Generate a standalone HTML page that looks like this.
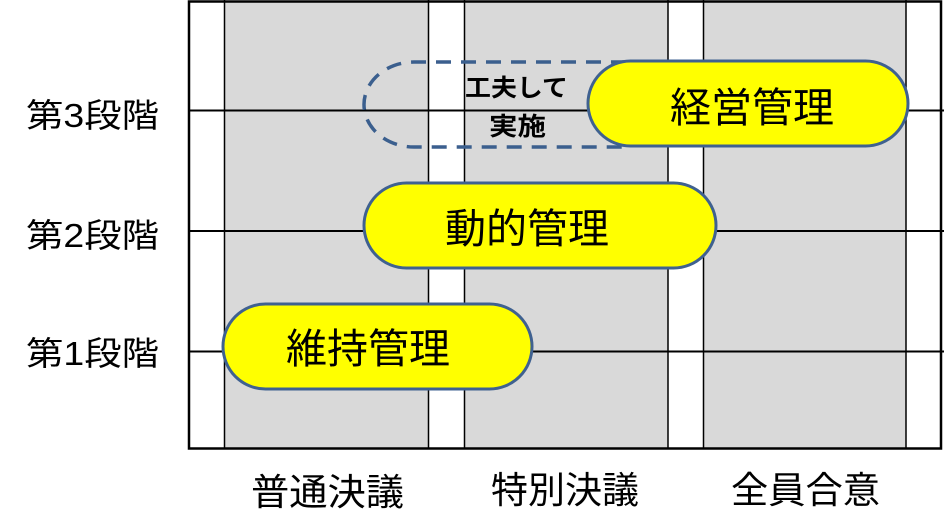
<!DOCTYPE html>
<html><head><meta charset="utf-8"><style>
html,body{margin:0;padding:0;background:#fff;}
svg{display:block;}
text{font-family:"Liberation Sans","Noto Sans CJK JP",sans-serif;fill:#000;}
</style></head><body>
<svg width="944" height="524" viewBox="0 0 944 524" xmlns="http://www.w3.org/2000/svg">
<rect x="0" y="0" width="944" height="524" fill="#fff"/>
<!-- gray columns -->
<rect x="224" y="1" width="204" height="447" fill="#d9d9d9"/>
<rect x="464" y="1" width="204" height="447" fill="#d9d9d9"/>
<rect x="703" y="1" width="203" height="447" fill="#d9d9d9"/>
<!-- inner vertical lines -->
<g stroke="#000" stroke-width="1.5">
<line x1="224.5" y1="0" x2="224.5" y2="449"/>
<line x1="428.5" y1="0" x2="428.5" y2="449"/>
<line x1="464.5" y1="0" x2="464.5" y2="449"/>
<line x1="668" y1="0" x2="668" y2="449"/>
<line x1="703.5" y1="0" x2="703.5" y2="449"/>
<line x1="906" y1="0" x2="906" y2="449"/>
</g>
<!-- horizontal row lines -->
<g stroke="#000" stroke-width="2">
<line x1="188" y1="110.5" x2="944" y2="110.5"/>
<line x1="188" y1="231" x2="944" y2="231"/>
<line x1="188" y1="351.5" x2="944" y2="351.5"/>
</g>
<!-- frame -->
<rect x="189" y="1.5" width="752" height="447" fill="none" stroke="#000" stroke-width="2.5"/>
<!-- dashed pill (left part; right part hidden under yellow pill) -->
<path d="M 626 62 H 414 A 50 42.5 0 0 0 414 147 H 626" fill="none" stroke="#3b5f8e" stroke-width="3.5" stroke-dasharray="15 10"/>
<text x="465" y="96" font-size="24" font-weight="bold" textLength="103" lengthAdjust="spacingAndGlyphs">工夫して</text>
<text x="489" y="135" font-size="25" font-weight="bold" textLength="57" lengthAdjust="spacingAndGlyphs">実施</text>
<!-- yellow pills -->
<g fill="#ffff00" stroke="#3f6190" stroke-width="3">
<rect x="588" y="61" width="320" height="85" rx="42.5" ry="42.5"/>
<rect x="364" y="183" width="352" height="85" rx="42.5" ry="42.5"/>
<rect x="223" y="304" width="309" height="85" rx="42.5" ry="42.5"/>
</g>
<text x="670" y="122" font-size="41">経営管理</text>
<text x="445" y="243" font-size="41">動的管理</text>
<text x="286" y="363" font-size="41">維持管理</text>
<!-- row labels -->
<text x="26" y="127" font-size="33" textLength="133" lengthAdjust="spacingAndGlyphs">第3段階</text>
<text x="26" y="247" font-size="33" textLength="133" lengthAdjust="spacingAndGlyphs">第2段階</text>
<text x="26" y="365" font-size="33" textLength="133" lengthAdjust="spacingAndGlyphs">第1段階</text>
<!-- column labels -->
<text x="251" y="505" font-size="37" textLength="153" lengthAdjust="spacingAndGlyphs">普通決議</text>
<text x="491" y="503" font-size="37" textLength="148" lengthAdjust="spacingAndGlyphs">特別決議</text>
<text x="731" y="503" font-size="37" textLength="149" lengthAdjust="spacingAndGlyphs">全員合意</text>
</svg>
</body></html>
